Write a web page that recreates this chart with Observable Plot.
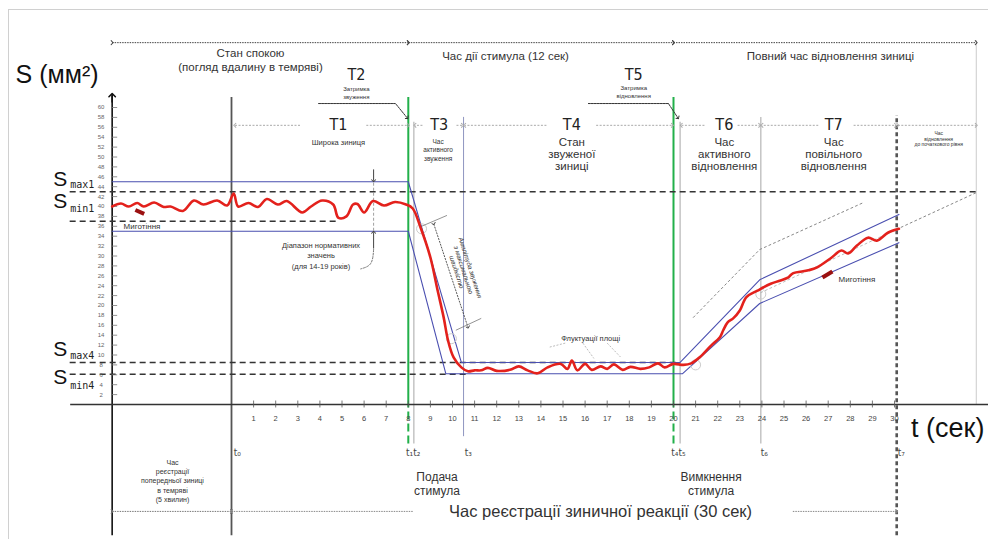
<!DOCTYPE html>
<html><head><meta charset="utf-8">
<script src="https://cdn.jsdelivr.net/npm/d3@7"></script>
<script src="https://cdn.jsdelivr.net/npm/@observablehq/plot@0.6"></script>
<style>body{margin:0;background:#fff;} #chart svg{display:block;background:#fff;}</style>
</head><body><div id="chart"></div>
<script>
// ---- pupil area trace (time in s, area in mm²) ----
const time = [-5.4,-5.0,-4.65,-4.27,-3.97,-3.5,-3.07,-2.76,-2.2,-1.7,-1.27,-0.65,-0.2,0.1,0.3,0.77,1.2,1.6,2.1,2.5,3.2,3.6,4.1,4.6,4.84,5.2,5.5,5.7,6.0,6.4,6.9,7.4,7.9,8.2,
  8.55,9.0,9.3,9.6,9.8,10.05,10.4,10.7,11.0,11.3,11.6,12.0,12.6,13.0,13.4,13.85,14.3,14.9,15.2,15.4,15.65,16.0,16.3,16.7,17.0,17.3,17.7,18.05,18.5,18.9,19.3,19.6,20.0,20.45,20.8,
  21.2,21.7,22.1,22.25,22.45,22.7,23.0,23.3,23.8,24.4,24.8,25.2,25.4,26.1,26.5,27.1,27.6,27.9,28.3,28.8,29.2,29.7,30.2];
const area = [40.0,40.6,40.0,40.7,40.0,40.8,39.9,40.0,39.1,41.2,40.4,41.2,40.2,42.6,40.0,40.7,39.9,41.5,40.4,41.1,38.8,40.0,41.2,40.4,37.7,38.0,40.4,40.5,38.8,41.1,40.2,40.9,40.4,39.6,
  35.8,29.7,23.6,17.6,12.9,9.5,7.5,6.7,6.9,6.9,7.4,6.8,7.0,7.7,6.9,6.3,7.5,8.2,7.2,8.9,6.9,8.2,7.0,7.7,7.2,8.1,7.0,7.6,7.2,7.5,8.3,7.5,8.2,8.0,8.3,
  9.6,11.9,13.6,15.0,16.6,17.4,19.0,21.7,23.0,24.4,25.0,25.7,26.5,27.1,27.7,29.5,31.1,30.5,32.1,33.7,33.1,34.7,35.5];
// normative corridor
const upperT = [-5.4,8.0,10.4,20.3,23.9,30.2];
const upperS = [45,45,8.5,8.5,25.2,38.4];
const lowerT = [-5.4,8.0,9.7,20.4,23.9,30.2];
const lowerS = [35,35,6.2,6.2,20.4,32.7];
// grey trend lines
const trendA_T = [20.9,23.9,28.6], trendA_S = [17.6,31.3,40.8];
const trendB_T = [30.3,33.7], trendB_S = [35.8,42.8];
const trendC_T = [23.95,30.2], trendC_S = [22.6,35.6];
// reference levels (Smax1, Smin1, Smax4, Smin4)
const levelS = [43,37,8.5,6.1];
const levelEnd = [33.7,4.8,20.3,10.8];
// ticks
const xTicks = [1,2,3,4,5,6,7,8,9,10,11,12,13,14,15,16,17,18,19,20,21,22,23,24,25,26,27,28,29,30];
const yTicks = [2,4,6,8,10,12,14,16,18,20,22,24,26,28,30,32,34,36,38,40,42,44,46,48,50,52,54,56,58,60];
// key times
const tAxis = -5.4, tStart = 0, tStim = 8, tT1 = 8.25, tT3 = 10.5, tOff = 20, tT5 = 20.3, tT6 = 23.95, tT7 = 30.1, tEnd = 33.7;

const pts = (T,S) => T.map((t,i)=>({t, s:S[i]}));
const trace = pts(time, area);

const sans = "'Liberation Sans', Arial, sans-serif";
const narrow = "'Liberation Sans Narrow', 'DejaVu Sans Condensed', 'Liberation Sans', sans-serif";

const dark = "#333", grey = "#c4c4c4", blue = "#4a4fb0", red = "#e3211c", green = "#22b04a";

const vlines = [
  {t:tAxis, a:-26.5, b:62.5, c:"#111", w:1.6, d:null},
  {t:tStart, a:-26.5, b:62, c:"#555", w:1.8, d:"3,1"},
  {t:tT1, a:-8, b:57, c:grey, w:1.5, d:null},
  {t:tT3, a:-6.5, b:58, c:"#8f95c0", w:1, d:"2,2"},
  {t:tT5, a:-8, b:57, c:grey, w:1.5, d:null},
  {t:tT6, a:-8, b:58, c:grey, w:1.5, d:null},
  {t:tEnd, a:0, b:73.5, c:"#ccc", w:1, d:null}
];

const tSegs = [
  {a:0.15,b:8.0,ga:3.1,gb:6.1},
  {a:8.3,b:10.45,ga:8.64,gb:10.18},
  {a:10.55,b:19.95,ga:14.25,gb:16.5},
  {a:20.35,b:23.9,ga:21.4,gb:22.9},
  {a:24.0,b:30.05,ga:26.55,gb:28.15}
];

const Tlabels = [
  {t:4.84,s:56.4,text:"T1"},{t:5.65,s:66.6,text:"T2"},{t:9.4,s:56.4,text:"T3"},
  {t:15.4,s:56.4,text:"T4"},{t:18.2,s:66.6,text:"T5"},{t:22.3,s:56.4,text:"T6"},{t:27.25,s:56.4,text:"T7"}
];

const midText = [
  {t:0.86,s:71.0,text:"Стан спокою",f:11.5},
  {t:0.86,s:68.2,text:"(погляд вдалину в темряві)",f:11.5},
  {t:12.4,s:70.3,text:"Час дії стимула (12 сек)",f:11.5},
  {t:27.1,s:70.3,text:"Повний час відновлення зиниці",f:11.5},
  {t:5.65,s:63.7,text:"Затримка",f:6},
  {t:5.65,s:62.1,text:"звуження",f:6},
  {t:18.2,s:63.9,text:"Затримка",f:6},
  {t:18.2,s:62.3,text:"відновлення",f:6},
  {t:4.84,s:52.9,text:"Широка зиниця",f:7.5},
  {t:9.35,s:53.1,text:"Час",f:6.5},
  {t:9.35,s:51.4,text:"активного",f:6.5},
  {t:9.35,s:49.7,text:"звуження",f:6.5},
  {t:15.4,s:52.9,text:"Стан",f:11.5},
  {t:15.4,s:50.5,text:"звуженої",f:11.5},
  {t:15.4,s:48.1,text:"зиниці",f:11.5},
  {t:22.3,s:52.9,text:"Час",f:11.5},
  {t:22.3,s:50.5,text:"активного",f:11.5},
  {t:22.3,s:48.1,text:"відновлення",f:11.5},
  {t:27.25,s:52.9,text:"Час",f:11.5},
  {t:27.25,s:50.5,text:"повільного",f:11.5},
  {t:27.25,s:48.1,text:"відновлення",f:11.5},
  {t:32.0,s:54.7,text:"Час",f:5},
  {t:32.0,s:53.6,text:"відновлення",f:5},
  {t:32.0,s:52.5,text:"до початкового рівня",f:5},
  {t:-4.05,s:36.0,text:"Миготіння",f:8},
  {t:28.3,s:25.3,text:"Миготіння",f:8},
  {t:16.25,s:13.4,text:"Флуктуації площі",f:7.5},
  {t:4.05,s:32.1,text:"Діапазон нормативних",f:7.5},
  {t:4.05,s:30.1,text:"значень",f:7.5},
  {t:4.05,s:27.9,text:"(для 14-19 років)",f:7.5},
  {t:-2.67,s:-11.7,text:"Час",f:7},
  {t:-2.67,s:-13.6,text:"реєстрації",f:7},
  {t:-2.67,s:-15.5,text:"попередньої зиниці",f:7},
  {t:-2.67,s:-17.4,text:"в темряві",f:7},
  {t:-2.67,s:-19.3,text:"(5 хвилин)",f:7},
  {t:9.3,s:-14.6,text:"Подача",f:12},
  {t:9.3,s:-17.5,text:"стимула",f:12},
  {t:21.7,s:-14.6,text:"Вимкнення",f:12},
  {t:21.7,s:-17.5,text:"стимула",f:12},
  {t:16.7,s:-21.6,text:"Час реєстрації зиничної реакції (30 сек)",f:16.5}
];

const tNames = [
  {t:0.1,text:"t₀"},{t:7.9,text:"t₁t₂"},{t:10.55,text:"t₃"},{t:19.9,text:"t₄t₅"},{t:23.95,text:"t₆"},{t:30.15,text:"t₇"}
];

const sLabels = [
  {t:-7.75,s:45.6,sub:"max1",ss:44.3},
  {t:-7.75,s:41.0,sub:"min1",ss:39.5},
  {t:-7.75,s:11.1,sub:"max4",ss:9.8},
  {t:-7.75,s:5.5,sub:"min4",ss:3.8}
];

const circles = [{t:8.6,s:35.5},{t:9.95,s:13.3},{t:21.0,s:8.0},{t:23.95,s:22.3}];

const chart = Plot.plot({
  width: 988, height: 539, margin: 0,
  x: {domain: [-231/22.1, (988-231)/22.1], axis: null},
  y: {domain: [(404-539)/4.95, 404/4.95], axis: null},
  style: {background: "#fff", fontFamily: sans},
  marks: [
    // outer frame lines
    Plot.ruleY([79.8], {x1: -10.09, x2: 34.3, stroke: "#d0d0d0", strokeWidth: 1}),
    Plot.ruleX([-10.09], {y1: 79.8, y2: -28, stroke: "#d0d0d0", strokeWidth: 1}),
    // vertical guide lines
    Plot.ruleX(vlines, {x: "t", y1: "a", y2: "b", stroke: d=>d.c, strokeWidth: d=>d.w, strokeDasharray: d=>d.d}),
    Plot.ruleX([tStim, tOff], {y1: 0, y2: 62, stroke: green, strokeWidth: 2}),
    Plot.ruleX([tStim, tOff], {y1: -8, y2: 0, stroke: green, strokeWidth: 2, strokeDasharray: "8,4"}),
    Plot.ruleX([tT7], {y1: -26.5, y2: 58.4, stroke: "#555", strokeWidth: 2.6, strokeDasharray: "4,3"}),
    // reference dashed levels
    Plot.ruleY(levelS.map((s,i)=>({s, e: levelEnd[i]})), {y: "s", x1: -7.3, x2: "e", stroke: dark, strokeWidth: 1.5, strokeDasharray: "6,4"}),
    // trend lines
    Plot.line(pts(trendA_T, trendA_S), {x: "t", y: "s", stroke: "#888", strokeWidth: 1, strokeDasharray: "2,3"}),
    Plot.line(pts(trendB_T, trendB_S), {x: "t", y: "s", stroke: "#888", strokeWidth: 1, strokeDasharray: "2,3"}),
    Plot.line(pts(trendC_T, trendC_S), {x: "t", y: "s", stroke: "#aaa", strokeWidth: 0.8, strokeDasharray: "2,3"}),
    // corridor
    Plot.line(pts(upperT, upperS), {x: "t", y: "s", stroke: blue, strokeWidth: 1.1}),
    Plot.line(pts(lowerT, lowerS), {x: "t", y: "s", stroke: blue, strokeWidth: 1.1}),
    // small circles
    Plot.dot(circles, {x: "t", y: "s", r: 5, stroke: "#ccc", strokeWidth: 1, fill: "none"}),
    // axes
    Plot.link([{a: 62.5}], {x1: tAxis, x2: tAxis, y1: 61, y2: "a", stroke: "#111", strokeWidth: 1.6, markerEnd: "arrow"}),
    Plot.link([{a: 34.6}], {x1: -7.3, x2: "a", y1: 0, y2: 0, stroke: "#333", strokeWidth: 1.6, markerEnd: "arrow"}),
    Plot.ruleX(xTicks, {x: d=>d, y1: -0.7, y2: 0.7, stroke: "#555", strokeWidth: 0.8}),
    Plot.text(xTicks, {x: d=>d, y: -2.9, text: d=>String(d), fontSize: 7.5, fill: "#444"}),
    Plot.ruleY(yTicks, {y: d=>d, x1: tAxis, x2: -5.15, stroke: "#777", strokeWidth: 0.8}),
    Plot.text(yTicks, {x: -5.9, y: d=>d, text: d=>String(d), fontSize: 6, fill: "#666"}),
    // top and bottom span arrows
    Plot.link([{a: tAxis, b: tStim}, {a: tStim, b: tOff}, {a: tOff, b: tEnd}], {x1: "a", x2: "b", y1: 73.1, y2: 73.1, stroke: "#444", strokeWidth: 1, strokeDasharray: "1.5,1", markerStart: "arrow", markerEnd: "arrow"}),
    Plot.link([{a: tAxis, b: tStart}], {x1: "a", x2: "b", y1: -21.6, y2: -21.6, stroke: "#777", strokeWidth: 1, strokeDasharray: "1.5,1", markerStart: "arrow", markerEnd: "arrow"}),
    Plot.link([{a: 8.2, b: tStart}], {x1: "a", x2: "b", y1: -21.6, y2: -21.6, stroke: "#888", strokeWidth: 1, strokeDasharray: "1.5,1", markerEnd: "arrow"}),
    Plot.link([{a: 25.4, b: tT7}], {x1: "a", x2: "b", y1: -21.6, y2: -21.6, stroke: "#888", strokeWidth: 1, strokeDasharray: "1.5,1", markerEnd: "arrow"}),
    // T-row arrows
    Plot.link(tSegs, {x1: "ga", x2: "a", y1: 56.4, y2: 56.4, stroke: "#aaa", strokeWidth: 1, strokeDasharray: "2,1.5", markerEnd: "arrow"}),
    Plot.link(tSegs, {x1: "gb", x2: "b", y1: 56.4, y2: 56.4, stroke: "#aaa", strokeWidth: 1, strokeDasharray: "2,1.5", markerEnd: "arrow"}),
    Plot.link([{a: 30.15, b: tEnd}], {x1: "a", x2: "b", y1: 56.4, y2: 56.4, stroke: "#aaa", strokeWidth: 1, strokeDasharray: "2,1.5", markerStart: "arrow", markerEnd: "arrow"}),
    // T2 / T5 leaders
    Plot.line([{t:3.94,s:60.8},{t:7.42,s:60.8},{t:7.95,s:57.9}], {x: "t", y: "s", stroke: "#333", strokeWidth: 1, strokeDasharray: "2,1", markerEnd: "arrow"}),
    Plot.line([{t:16.15,s:60.8},{t:19.77,s:60.8},{t:20.2,s:57.9}], {x: "t", y: "s", stroke: "#333", strokeWidth: 1, strokeDasharray: "2,1", markerEnd: "arrow"}),
    // range markers
    Plot.link([{a: 47.5, b: 45.2}, {a: 31.5, b: 34.8}], {x1: 6.43, x2: 6.43, y1: "a", y2: "b", stroke: "#444", strokeWidth: 1, markerEnd: "arrow"}),
    Plot.ruleX([6.43], {y1: 35, y2: 45, stroke: "#888", strokeWidth: 0.8, strokeDasharray: "3,2"}),
    Plot.line([{t:6.43,s:31.3},{t:6.3,s:28.5},{t:5.85,s:27.4}], {x: "t", y: "s", curve: "natural", stroke: "#666", strokeWidth: 0.9, strokeDasharray: "2,1.5"}),
    // amplitude arrow
    Plot.link([{a: 0}], {x1: 9.15, y1: 36.5, x2: 10.7, y2: 15.6, stroke: "#444", strokeWidth: 0.9, strokeDasharray: "2,1", markerStart: "arrow", markerEnd: "arrow"}),
    Plot.link([{a: 0}, {a: 1}], {x1: d=>d.a ? 10.15 : 8.6, y1: d=>d.a ? 15.0 : 36.0, x2: d=>d.a ? 11.3 : 9.75, y2: d=>d.a ? 17.4 : 38.2, stroke: "#666", strokeWidth: 0.7}),
    Plot.text([{t:10.5, s:27.2}], {x: "t", y: "s", text: ()=>"Амплітуда звуження\nз максимальною\nшвидкістю", rotate: 72, fontSize: 6.5, lineHeight: 1.1, fill: "#333", fontStyle: "italic"}),
    // fluctuation leaders
    Plot.link([{a:15.1,b:14.4,c:11.6},{a:15.9,b:16.4,c:9.3},{a:17.0,b:17.6,c:9.6}], {x1: "a", y1: 12.4, x2: "b", y2: "c", stroke: "#aaa", strokeWidth: 0.8, strokeDasharray: "2,1.5"}),
    // pupil trace
    Plot.line(trace, {x: "t", y: "s", curve: "catmull-rom", stroke: red, strokeWidth: 2.6}),
    // blink marks
    Plot.link([{x1:-4.35,y1:39.3,x2:-3.95,y2:38.5},{x1:26.74,y1:25.66,x2:27.19,y2:26.87}], {x1: "x1", y1: "y1", x2: "x2", y2: "y2", stroke: "#9b1111", strokeWidth: 4}),
    // labels
    Plot.text(Tlabels, {x: "t", y: "s", text: "text", fontSize: 16, fill: "#222", fontFamily: narrow}),
    Plot.text(midText, {x: "t", y: "s", text: "text", fontSize: "f", fill: "#333"}),
    Plot.text(tNames, {x: "t", y: -9.7, text: "text", fontSize: 10, fill: "#444", textAnchor: "start", fontFamily: narrow}),
    Plot.text([{t:-9.77, s:66.6}], {x: "t", y: "s", text: ()=>"S (мм²)", fontSize: 25, textAnchor: "start", fill: "#111"}),
    Plot.text([{t:30.75, s:-4.9}], {x: "t", y: "s", text: ()=>"t (сек)", fontSize: 27, textAnchor: "start", fill: "#111"}),
    Plot.text(sLabels, {x: "t", y: "s", text: ()=>"S", fontSize: 21, fill: "#111"}),
    Plot.text(sLabels, {x: -7.3, y: "ss", text: "sub", fontSize: 10, textAnchor: "start", fill: "#222", fontFamily: "'DejaVu Sans Mono', monospace"})
  ]
});
document.getElementById("chart").append(chart);
</script>
</body></html>
